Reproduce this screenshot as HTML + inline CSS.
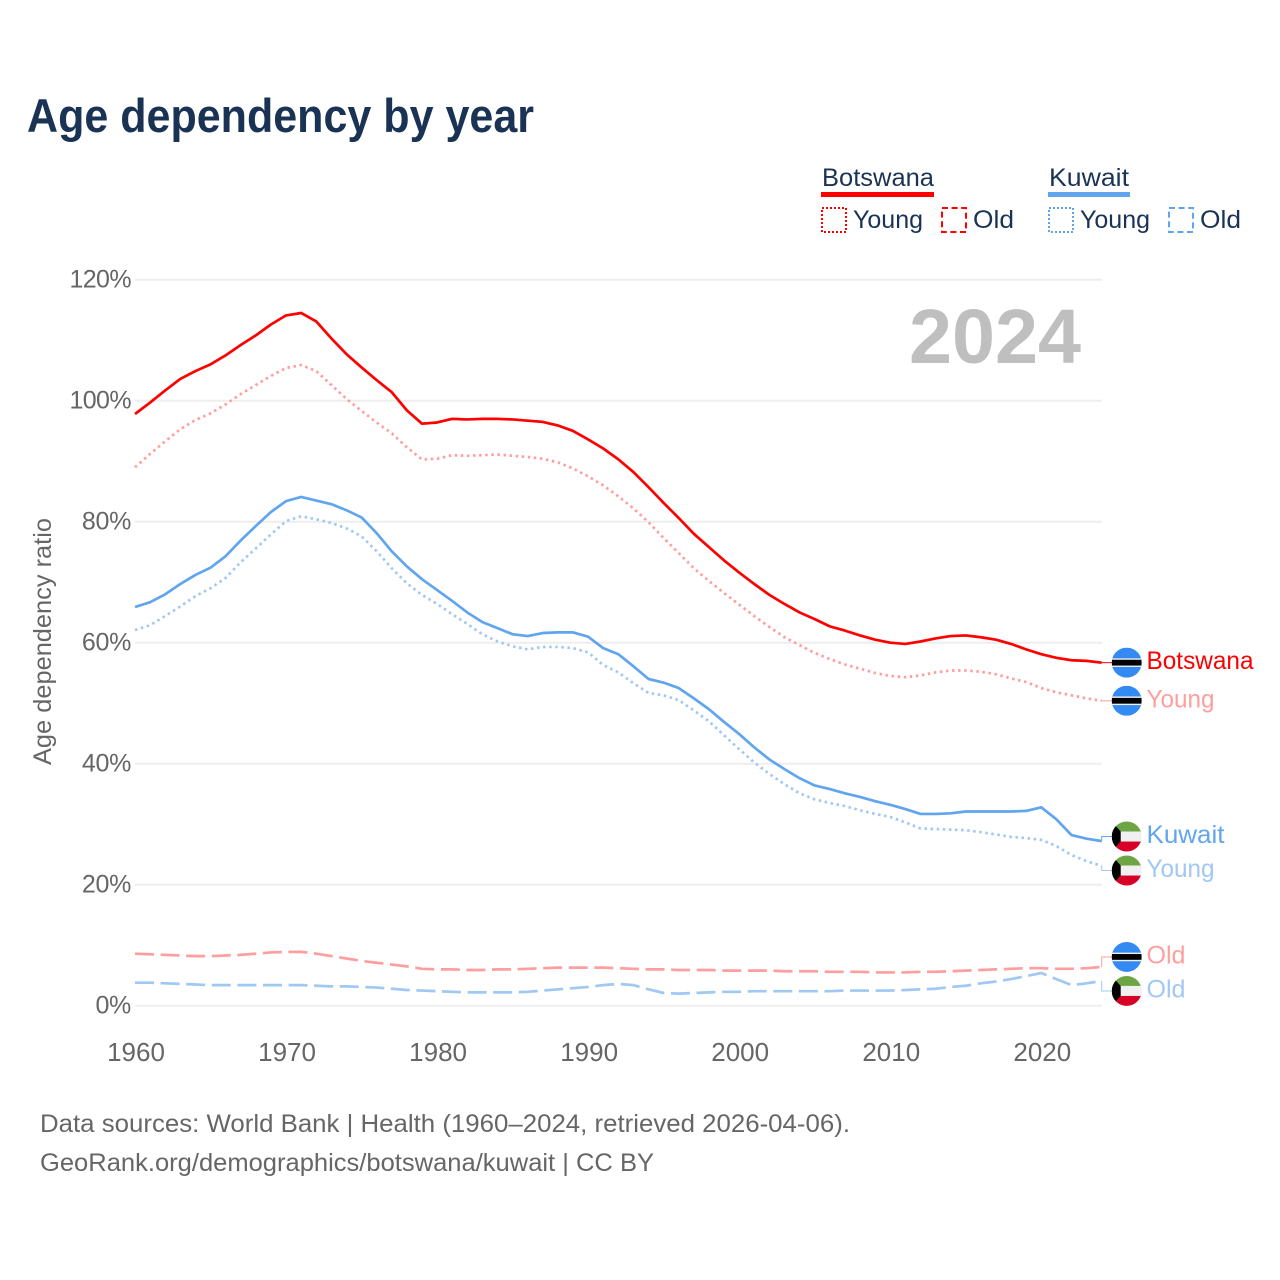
<!DOCTYPE html>
<html lang="en">
<head>
<meta charset="utf-8">
<title>Age dependency by year</title>
<style>
html,body{margin:0;padding:0;background:#fff;width:1280px;height:1280px;overflow:hidden}
svg{display:block}
text{font-family:"Liberation Sans",sans-serif}
</style>
</head>
<body>
<svg id="chart" xmlns="http://www.w3.org/2000/svg" width="1280" height="1280" viewBox="0 0 1280 1280">
  <defs>
    <clipPath id="flag-clip"><circle cx="0" cy="0" r="15"/></clipPath>
    <g id="flag-botswana" clip-path="url(#flag-clip)">
      <rect x="-15" y="-15" width="30" height="30" fill="#338af3"/>
      <rect x="-15" y="-4.3" width="30" height="8.6" fill="#f0f0f0"/>
      <rect x="-15" y="-2.9" width="30" height="5.8" fill="#000"/>
    </g>
    <g id="flag-kuwait" clip-path="url(#flag-clip)">
      <rect x="-15" y="-15" width="30" height="10" fill="#6da544"/>
      <rect x="-15" y="-5" width="30" height="10" fill="#f0f0f0"/>
      <rect x="-15" y="5" width="30" height="10" fill="#d80027"/>
      <polygon points="-15,-15 -6,-5 -6,5 -15,15" fill="#000"/>
    </g>
  </defs>
  <text x="27" y="132" font-size="47" font-weight="700" fill="#1a3355" textLength="507" lengthAdjust="spacingAndGlyphs">Age dependency by year</text>

  <g fill="#1a3355" font-size="25">
    <text x="822" y="186" textLength="112" lengthAdjust="spacingAndGlyphs">Botswana</text>
    <rect x="821" y="192" width="113" height="5" fill="#ff0000"/>
    <rect x="822" y="208" width="24" height="24" fill="none" stroke="#ff0000" stroke-width="2" stroke-dasharray="2 2"/>
    <text x="853" y="228" textLength="70" lengthAdjust="spacingAndGlyphs">Young</text>
    <rect x="942" y="208" width="24" height="24" fill="none" stroke="#ff0000" stroke-width="2" stroke-dasharray="6 3.6"/>
    <text x="973" y="228" textLength="41" lengthAdjust="spacingAndGlyphs">Old</text>
    <text x="1049" y="186" textLength="80" lengthAdjust="spacingAndGlyphs">Kuwait</text>
    <rect x="1048" y="192" width="82" height="5" fill="#60a5ee"/>
    <rect x="1049" y="208" width="24" height="24" fill="none" stroke="#60a5ee" stroke-width="2" stroke-dasharray="2 2"/>
    <text x="1080" y="228" textLength="70" lengthAdjust="spacingAndGlyphs">Young</text>
    <rect x="1169" y="208" width="24" height="24" fill="none" stroke="#60a5ee" stroke-width="2" stroke-dasharray="6 3.6"/>
    <text x="1200" y="228" textLength="41" lengthAdjust="spacingAndGlyphs">Old</text>
  </g>

  <g id="grid"></g>
  <g id="y-ticks"></g>
  <g id="x-ticks"></g>
  <text transform="translate(51,765) rotate(-90)" x="0" y="0" font-size="25" fill="#666666" textLength="247" lengthAdjust="spacingAndGlyphs">Age dependency ratio</text>
  <text id="year-label" x="909" y="363" font-size="77" font-weight="700" fill="#bfbfbf" textLength="172" lengthAdjust="spacingAndGlyphs"></text>
  <g id="lines"></g>
  <g id="end-labels"></g>

  <text x="40" y="1132" font-size="25" fill="#666666" textLength="810" lengthAdjust="spacingAndGlyphs">Data sources: World Bank | Health (1960–2024, retrieved 2026-04-06).</text>
  <text x="40" y="1171" font-size="25" fill="#666666" textLength="614" lengthAdjust="spacingAndGlyphs">GeoRank.org/demographics/botswana/kuwait | CC BY</text>
</svg>
<script>
const years = [1960,1961,1962,1963,1964,1965,1966,1967,1968,1969,
  1970,1971,1972,1973,1974,1975,1976,1977,1978,1979,
  1980,1981,1982,1983,1984,1985,1986,1987,1988,1989,
  1990,1991,1992,1993,1994,1995,1996,1997,1998,1999,
  2000,2001,2002,2003,2004,2005,2006,2007,2008,2009,
  2010,2011,2012,2013,2014,2015,2016,2017,2018,2019,
  2020,2021,2022,2023,2024];
const botswanaTotal = [97.8,99.7,101.7,103.6,104.9,106.0,107.5,109.2,110.8,112.6,
  114.1,114.5,113.1,110.3,107.7,105.5,103.4,101.4,98.4,96.2,
  96.4,97.0,96.9,97.0,97.0,96.9,96.7,96.5,95.9,95.0,
  93.6,92.1,90.3,88.2,85.7,83.1,80.6,78.0,75.8,73.6,
  71.6,69.7,67.9,66.4,65.0,63.9,62.7,62.0,61.2,60.5,
  60.0,59.8,60.2,60.7,61.1,61.2,60.9,60.5,59.8,58.9,
  58.1,57.5,57.1,57.0,56.7];
const botswanaYoung = [89.0,91.2,93.3,95.3,96.8,97.9,99.4,101.1,102.6,104.1,
  105.4,105.9,104.9,102.6,100.3,98.3,96.4,94.6,92.3,90.3,
  90.4,91.0,90.9,91.0,91.1,90.9,90.7,90.4,89.8,88.8,
  87.5,86.0,84.2,82.2,79.9,77.3,74.8,72.3,70.2,68.2,
  66.3,64.4,62.6,60.9,59.6,58.3,57.3,56.4,55.7,55.0,
  54.5,54.3,54.6,55.1,55.4,55.4,55.2,54.8,54.1,53.5,
  52.5,51.8,51.3,50.8,50.4];
const botswanaOld = [8.6,8.5,8.4,8.3,8.2,8.2,8.3,8.4,8.6,8.8,
  8.9,8.9,8.6,8.2,7.8,7.4,7.1,6.8,6.5,6.1,
  6.0,6.0,5.9,5.9,6.0,6.0,6.1,6.2,6.3,6.3,
  6.3,6.3,6.2,6.1,6.0,6.0,5.9,5.9,5.9,5.8,
  5.8,5.8,5.8,5.7,5.7,5.7,5.6,5.6,5.6,5.5,
  5.5,5.5,5.6,5.6,5.7,5.8,5.9,6.0,6.1,6.2,
  6.2,6.1,6.1,6.2,6.4];
const kuwaitTotal = [65.9,66.7,68.0,69.7,71.2,72.4,74.3,76.9,79.3,81.6,
  83.4,84.1,83.5,82.9,81.9,80.7,78.1,75.1,72.6,70.5,
  68.7,66.9,65.0,63.4,62.4,61.4,61.1,61.6,61.7,61.7,
  61.0,59.1,58.1,56.1,54.0,53.4,52.5,50.8,49.0,46.9,
  44.9,42.7,40.7,39.1,37.6,36.4,35.8,35.1,34.5,33.8,
  33.2,32.5,31.7,31.7,31.8,32.1,32.1,32.1,32.1,32.2,
  32.8,30.8,28.2,27.6,27.2];
const kuwaitYoung = [62.1,62.9,64.4,66.0,67.7,69.0,70.7,73.3,75.6,77.9,
  80.1,80.9,80.4,79.8,78.9,77.6,75.1,72.3,69.8,67.9,
  66.4,64.7,63.1,61.4,60.2,59.4,58.9,59.3,59.3,59.1,
  58.4,56.3,55.1,53.3,51.7,51.3,50.5,48.8,47.0,44.7,
  42.4,40.2,38.3,36.6,35.1,34.1,33.5,33.0,32.3,31.7,
  31.2,30.3,29.3,29.2,29.1,29.0,28.7,28.3,27.9,27.7,
  27.4,26.4,24.9,23.9,23.1];
const kuwaitOld = [3.8,3.8,3.7,3.6,3.5,3.4,3.4,3.4,3.4,3.4,
  3.4,3.4,3.3,3.2,3.2,3.1,3.0,2.8,2.6,2.5,
  2.4,2.3,2.2,2.2,2.2,2.2,2.3,2.5,2.7,2.9,
  3.1,3.4,3.6,3.4,2.7,2.1,2.0,2.1,2.2,2.3,
  2.3,2.4,2.4,2.4,2.4,2.4,2.4,2.5,2.5,2.5,
  2.5,2.6,2.7,2.8,3.1,3.3,3.7,4.0,4.4,4.9,
  5.4,4.4,3.4,3.7,4.1];
const yTickValues = [0,20,40,60,80,100,120];
const xTickValues = [1960,1970,1980,1990,2000,2010,2020];

const SVGNS = 'http://www.w3.org/2000/svg';
const xOf = function (year) { return 135 + (year - 1960) * (1101.7 - 135) / 64; };
const yOf = function (pct) { return 1005.7 - pct * 6.05; };
function make(tag, attrs, parent) {
  const el = document.createElementNS(SVGNS, tag);
  for (const k in attrs) el.setAttribute(k, attrs[k]);
  parent.appendChild(el);
  return el;
}

const gridG = document.getElementById('grid');
const yTickG = document.getElementById('y-ticks');
yTickValues.forEach(function (v) {
  const line = make('line', {x1: 135, x2: 1102, y1: yOf(v), y2: yOf(v), stroke: '#eeeeee', 'stroke-width': 2}, gridG);
  
  
  const t = make('text', {x: 131, y: yOf(v) + 8, 'text-anchor': 'end', 'font-size': 25, fill: '#666666', 'letter-spacing': v >= 100 ? -0.6 : -0.3}, yTickG);
  
  
  t.textContent = v + '%';
});

const xTickG = document.getElementById('x-ticks');
xTickValues.forEach(function (yr) {
  const t = make('text', {x: xOf(yr) + 1, y: 1061, 'text-anchor': 'middle', 'font-size': 26, fill: '#666666'}, xTickG);
  
  
  t.textContent = yr;
});

document.getElementById('year-label').textContent = years[years.length - 1];

const RED = '#ff0000', BLUE = '#60a5ee', PINK = '#ff9e9e', SKY = '#a0c8f3';
const DOT = '2.5 3.6', DASH = '19 6.6';
const seriesList = [
  {id: 'botswana-old',   values: botswanaOld,   color: PINK, dash: DASH, width: 2.7, label: 'Old',      flag: 'botswana'},
  {id: 'kuwait-old',     values: kuwaitOld,     color: SKY,  dash: DASH, width: 2.7, label: 'Old',      flag: 'kuwait'},
  {id: 'kuwait-young',   values: kuwaitYoung,   color: SKY,  dash: DOT,  width: 2.7, label: 'Young',    flag: 'kuwait'},
  {id: 'botswana-young', values: botswanaYoung, color: PINK, dash: DOT,  width: 2.7, label: 'Young',    flag: 'botswana'},
  {id: 'kuwait-total',   values: kuwaitTotal,   color: BLUE, dash: '',   width: 2.7, label: 'Kuwait',   flag: 'kuwait'},
  {id: 'botswana-total', values: botswanaTotal, color: RED,  dash: '',   width: 2.7, label: 'Botswana', flag: 'botswana'}
];

const linesG = document.getElementById('lines');
seriesList.forEach(function (s) {
  const d = s.values.map(function (v, i) {
    return (i ? 'L' : 'M') + xOf(years[i]).toFixed(2) + ',' + yOf(v).toFixed(2);
  }).join('');
  const p = make('path', {d: d, fill: 'none', stroke: s.color, 'stroke-width': s.width, 'stroke-linejoin': 'round'}, linesG);
  if (s.dash) p.setAttribute('stroke-dasharray', s.dash);
  
  
});

/* Dodge end labels: groups closer than 34px spread symmetrically around their centre. */
const MIN_GAP = 34;
const placed = seriesList.map(function (s) {
  const y = yOf(s.values[s.values.length - 1]);
  return {s: s, y: y, ly: y};
}).sort(function (a, b) { return a.y - b.y; });
let group = [];
function flush() {
  const mean = group.reduce(function (acc, g) { return acc + g.y; }, 0) / group.length;
  group.forEach(function (g, i) { g.ly = mean + (i - (group.length - 1) / 2) * MIN_GAP; });
  group = [];
}
placed.forEach(function (p) {
  if (group.length && p.y - group[group.length - 1].y >= MIN_GAP) flush();
  group.push(p);
});
flush();

const labelFit = {Botswana: 107, Kuwait: 78, Young: 68, Old: 39};
const endG = document.getElementById('end-labels');
const xEnd = xOf(years[years.length - 1]);
placed.forEach(function (p) {
  const c = make('path', {d: 'M' + xEnd + ',' + p.y.toFixed(2) + 'V' + p.ly.toFixed(2) + 'H1112', fill: 'none', stroke: p.s.color, 'stroke-width': 1}, endG);
  
  
  const f = make('use', {href: '#flag-' + p.s.flag, transform: 'translate(1126.7,' + p.ly.toFixed(2) + ')'}, endG);
  
  
  const t = make('text', {x: 1146.5, y: (p.ly + 6.5).toFixed(2), 'font-size': 25, fill: p.s.color, textLength: labelFit[p.s.label], lengthAdjust: 'spacingAndGlyphs'}, endG);
  
  
  t.textContent = p.s.label;
});
</script>
</body>
</html>
